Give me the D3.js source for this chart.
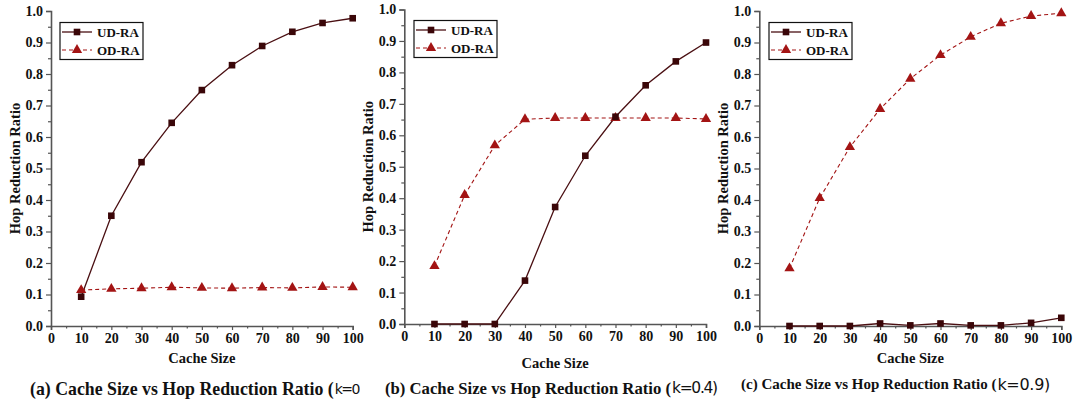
<!DOCTYPE html>
<html>
<head>
<meta charset="utf-8">
<script src="https://cdn.jsdelivr.net/npm/d3@7"></script>
<style>
  html, body { margin: 0; padding: 0; background: #fff; }
  svg { display: block; }
  text { font-family: "Liberation Serif", "Times New Roman", serif; font-weight: bold; fill: #111; }
</style>
</head>
<body>
<svg id="chart" width="1078" height="403"></svg>
<script>
// Cache sizes on the x axis
const cacheSizes = [10, 20, 30, 40, 50, 60, 70, 80, 90, 100];

// Hop reduction ratio, k = 0.1
const udRaK01 = [0.093, 0.350, 0.520, 0.645, 0.749, 0.828, 0.889, 0.934, 0.962, 0.977];
const odRaK01 = [0.114, 0.118, 0.120, 0.123, 0.121, 0.120, 0.122, 0.121, 0.124, 0.123];

// Hop reduction ratio, k = 0.4
const udRaK04 = [0.000, 0.000, 0.000, 0.138, 0.372, 0.535, 0.659, 0.759, 0.835, 0.895];
const odRaK04 = [0.184, 0.410, 0.568, 0.651, 0.655, 0.655, 0.655, 0.655, 0.655, 0.652];

// Hop reduction ratio, k = 0.9
const udRaK09 = [0.000, 0.000, 0.000, 0.008, 0.002, 0.008, 0.002, 0.002, 0.010, 0.026];
const odRaK09 = [0.183, 0.406, 0.568, 0.689, 0.785, 0.860, 0.918, 0.961, 0.984, 0.993];

// Axis ticks
const xTicks = [0, 10, 20, 30, 40, 50, 60, 70, 80, 90, 100];
const yTicks = [0.0, 0.1, 0.2, 0.3, 0.4, 0.5, 0.6, 0.7, 0.8, 0.9, 1.0];

const seriesNames = ["UD-RA", "OD-RA"];
const captionTexts = ["(a) Cache Size vs Hop Reduction Ratio (", "(b) Cache Size vs Hop Reduction Ratio (", "(c) Cache Size vs Hop Reduction Ratio ("];
const kTexts = ["k=0.1)", "k=0.4)", "k=0.9)"];

const UD_COLOR = "#4a0f12";
const UD_MARK = "#3a0608";
const OD_COLOR = "#a31414";
const AXIS_COLOR = "#555";

const svg = d3.select("#chart");

// Layout of each panel: plot frame, text anchors, legend box, caption column
const panels = [
  { ud: udRaK01, od: odRaK01, x0: 51, x1: 352.7, yTop: 11, yBot: 326, titleX: 15, xTitleY: 358,
    capX: 30, capY: 389, capSize: 17.8, kSize: 14, kSpacing: -1.5, legend: [60, 22.5, 83, 37], clip: [0, 360] },
  { ud: udRaK04, od: odRaK04, x0: 404.3, x1: 706, yTop: 9.5, yBot: 324, titleX: 368, xTitleY: 363,
    capX: 385, capY: 388, capSize: 16.7, kSize: 15.5, kSpacing: -1.3, legend: [414, 20.5, 83, 37], clip: [360, 720] },
  { ud: udRaK09, od: odRaK09, x0: 759.3, x1: 1061.3, yTop: 11, yBot: 326, titleX: 723, xTitleY: 358,
    capX: 741, capY: 384, capSize: 15, kSize: 16, kSpacing: -0.3, legend: [769, 22.5, 83, 37], clip: [720, 1078] }
];

const defs = svg.append("defs");

panels.forEach((p, i) => {
  const x = d3.scaleLinear().domain([0, 100]).range([p.x0, p.x1]);
  const y = d3.scaleLinear().domain([0, 1]).range([p.yBot, p.yTop]);
  const g = svg.append("g");

  // y axis: labelled major ticks, short minor ticks between them
  g.append("g").attr("transform", `translate(${p.x0},0)`)
    .call(d3.axisLeft(y).tickValues(yTicks).tickFormat(d3.format(".1f")).tickSize(5).tickPadding(3));
  g.append("g").attr("transform", `translate(${p.x0},0)`)
    .call(d3.axisLeft(y).tickValues(d3.range(0.05, 1, 0.1)).tickFormat("").tickSize(3))
    .select(".domain").remove();

  // x axis
  g.append("g").attr("transform", `translate(0,${p.yBot})`)
    .call(d3.axisBottom(x).tickValues(xTicks).tickFormat(d3.format("d")).tickSize(4).tickPadding(3));
  g.append("g").attr("transform", `translate(0,${p.yBot})`)
    .call(d3.axisBottom(x).tickValues(d3.range(5, 100, 10)).tickFormat("").tickSize(2.5))
    .select(".domain").remove();

  g.selectAll(".domain").attr("stroke", AXIS_COLOR).attr("stroke-width", 1.6);
  g.selectAll(".tick line").attr("stroke", AXIS_COLOR).attr("stroke-width", 1.2);
  g.selectAll(".tick text")
    .style("font-family", "'Liberation Serif', serif")
    .style("font-weight", "bold")
    .style("font-size", "14px")
    .attr("fill", "#111");

  // axis titles
  g.append("text")
    .attr("transform", `translate(${p.titleX},${(p.yTop + p.yBot) / 2}) rotate(-90)`)
    .attr("text-anchor", "middle").attr("dominant-baseline", "central")
    .style("font-size", "14.5px").text("Hop Reduction Ratio");
  g.append("text")
    .attr("x", (p.x0 + p.x1) / 2).attr("y", p.xTitleY)
    .attr("text-anchor", "middle").attr("dominant-baseline", "central")
    .style("font-size", "14.5px").text("Cache Size");

  // series lines and markers
  const pts = arr => cacheSizes.map((c, j) => [c, arr[j]]);
  const line = d3.line().x(d => x(d[0])).y(d => y(d[1]));

  g.append("path").datum(pts(p.od)).attr("d", line)
    .attr("fill", "none").attr("stroke", OD_COLOR).attr("stroke-width", 1.1)
    .attr("stroke-dasharray", "4,3");
  g.append("path").datum(pts(p.ud)).attr("d", line)
    .attr("fill", "none").attr("stroke", UD_COLOR).attr("stroke-width", 1.3);

  const tri = d3.symbol().type(d3.symbolTriangle).size(46);
  g.selectAll(".od").data(pts(p.od)).join("path")
    .attr("transform", d => `translate(${x(d[0])},${y(d[1])})`)
    .attr("d", tri).attr("fill", OD_COLOR);
  g.selectAll(".ud").data(pts(p.ud)).join("rect")
    .attr("x", d => x(d[0]) - 3.3).attr("y", d => y(d[1]) - 3.3)
    .attr("width", 6.6).attr("height", 6.6).attr("fill", UD_MARK);

  // legend
  const [lx, ly, lw, lh] = p.legend;
  const lg = g.append("g");
  lg.append("rect").attr("x", lx).attr("y", ly).attr("width", lw).attr("height", lh)
    .attr("fill", "#fff").attr("stroke", "#111").attr("stroke-width", 1.2);
  const rows = [ly + 9.5, ly + 27.5];
  lg.append("line").attr("x1", lx + 2).attr("x2", lx + 32).attr("y1", rows[0]).attr("y2", rows[0])
    .attr("stroke", UD_COLOR).attr("stroke-width", 1.3);
  lg.append("rect").attr("x", lx + 17 - 3.3).attr("y", rows[0] - 3.3).attr("width", 6.6).attr("height", 6.6).attr("fill", UD_MARK);
  lg.append("line").attr("x1", lx + 2).attr("x2", lx + 32).attr("y1", rows[1]).attr("y2", rows[1])
    .attr("stroke", OD_COLOR).attr("stroke-width", 1.1).attr("stroke-dasharray", "4,3");
  lg.append("path").attr("transform", `translate(${lx + 17},${rows[1]})`).attr("d", tri).attr("fill", OD_COLOR);
  seriesNames.forEach((name, k) => {
    lg.append("text").attr("x", lx + 37).attr("y", rows[k]).attr("dominant-baseline", "central")
      .style("font-size", "13px").text(name);
  });

  // caption under the panel, clipped to its own column
  const cid = "cap" + i;
  defs.append("clipPath").attr("id", cid).append("rect")
    .attr("x", p.clip[0]).attr("y", 368).attr("width", p.clip[1] - p.clip[0]).attr("height", 35);
  const cap = svg.append("text").attr("clip-path", `url(#${cid})`)
    .attr("x", p.capX).attr("y", p.capY).attr("dominant-baseline", "central")
    .style("font-size", p.capSize + "px");
  cap.append("tspan").text(captionTexts[i]);
  cap.append("tspan").attr("dx", 1)
    .style("font-family", "'DejaVu Sans', sans-serif").style("font-weight", "normal")
    .style("font-size", p.kSize + "px").attr("letter-spacing", p.kSpacing).text(kTexts[i]);
});
</script>
</body>
</html>
